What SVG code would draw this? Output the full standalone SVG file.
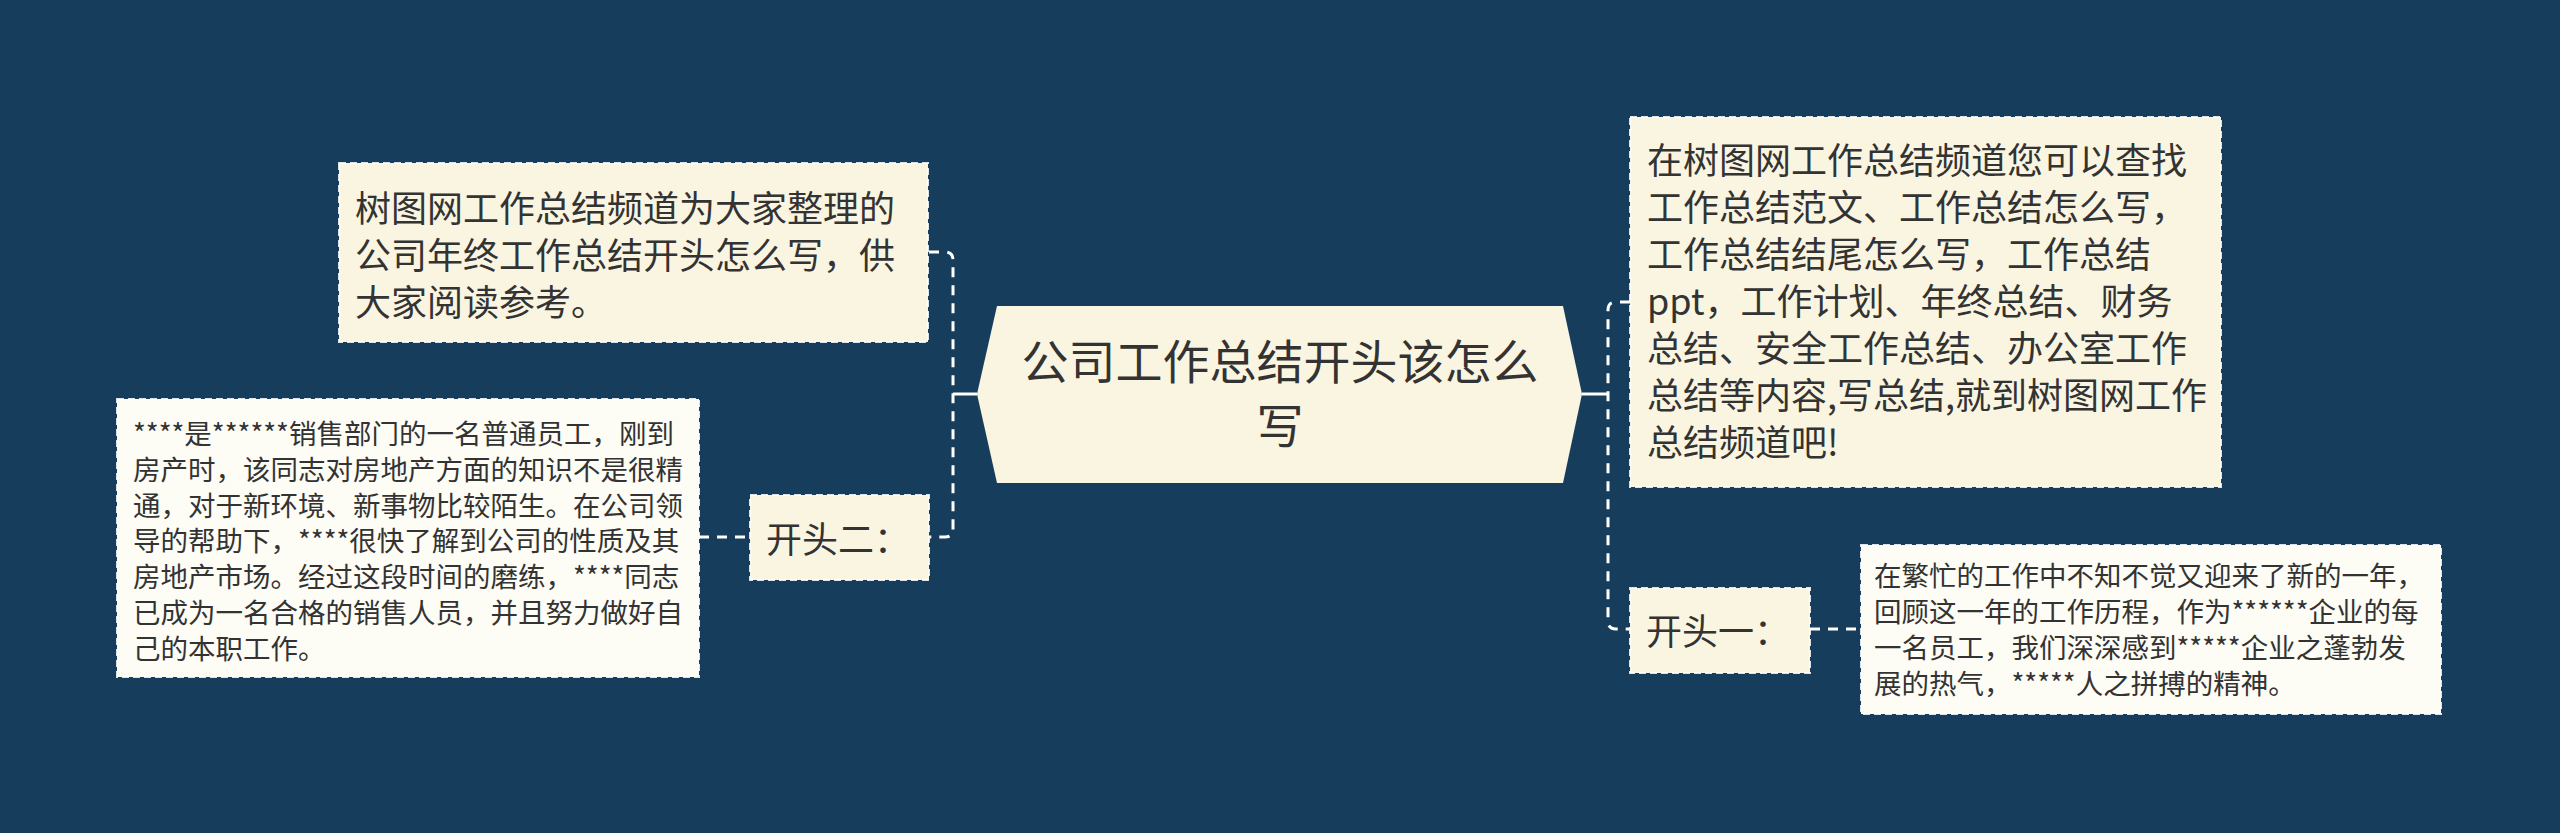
<svg xmlns="http://www.w3.org/2000/svg" width="2560" height="833" viewBox="0 0 2560 833">
<style>
.t{font-family:"Noto Sans CJK SC","Noto Sans",sans-serif;fill:#333333}
.box{fill:#faf5e1;stroke:#ffffff;stroke-width:2;stroke-dasharray:7,4;stroke-opacity:0.85}
.leaf{fill:#fdfcf5;stroke:#ffffff;stroke-width:2;stroke-dasharray:7,4;stroke-opacity:0.85}
.dash{fill:none;stroke:#ffffff;stroke-width:3;stroke-dasharray:10,8}
.solid{fill:none;stroke:#ffffff;stroke-width:3}
</style>
<rect x="0" y="0" width="2560" height="833" fill="#173d5d"/>
<g id="connectors">
<path class="dash" d="M929 252 H945 Q953 252 953 260 V529 Q953 537 945 537 H929"/>
<path class="solid" d="M953 394 H977"/>
<path class="dash" d="M699 537 H750"/>
<path class="dash" d="M1630 302 H1616 Q1608 302 1608 310 V621 Q1608 629 1616 629 H1630"/>
<path class="solid" d="M1582 394 H1608"/>
<path class="dash" d="M1810 629 H1861"/>
</g>
<g id="root">
<polygon points="977,394 997,306 1563,306 1582,394 1563,483 997,483" fill="#faf5e1"/>
<text class="t" font-size="47" text-anchor="middle" x="1280" y="379">公司工作总结开头该怎么</text>
<text class="t" font-size="47" text-anchor="middle" x="1280" y="443">写</text>
</g>
<g id="intro">
<rect class="box" x="339" y="163" width="589" height="179"/>
<text class="t" font-size="36" x="355"><tspan x="355" y="222">树图网工作总结频道为大家整理的</tspan><tspan x="355" y="269">公司年终工作总结开头怎么写，供</tspan><tspan x="355" y="316">大家阅读参考。</tspan></text>
</g>
<g id="opening2">
<rect class="box" x="750" y="495" width="179" height="85"/>
<text class="t" font-size="36" x="766" y="553">开头二：</text>
</g>
<g id="opening2-text">
<rect class="leaf" x="117" y="399" width="582" height="278"/>
<text class="t" font-size="27.5"><tspan x="133" y="444">****是******销售部门的一名普通员工，刚到</tspan><tspan x="133" y="480">房产时，该同志对房地产方面的知识不是很精</tspan><tspan x="133" y="516">通，对于新环境、新事物比较陌生。在公司领</tspan><tspan x="133" y="551">导的帮助下，****很快了解到公司的性质及其</tspan><tspan x="133" y="587">房地产市场。经过这段时间的磨练，****同志</tspan><tspan x="133" y="623">已成为一名合格的销售人员，并且努力做好自</tspan><tspan x="133" y="659">己的本职工作。</tspan></text>
</g>
<g id="channel">
<rect class="box" x="1630" y="117" width="591" height="370"/>
<text class="t" font-size="36"><tspan x="1647" y="174">在树图网工作总结频道您可以查找</tspan><tspan x="1647" y="221">工作总结范文、工作总结怎么写，</tspan><tspan x="1647" y="268">工作总结结尾怎么写，工作总结</tspan><tspan x="1647" y="315">ppt，工作计划、年终总结、财务</tspan><tspan x="1647" y="362">总结、安全工作总结、办公室工作</tspan><tspan x="1647" y="409">总结等内容,写总结,就到树图网工作</tspan><tspan x="1647" y="456">总结频道吧!</tspan></text>
</g>
<g id="opening1">
<rect class="box" x="1630" y="588" width="180" height="85"/>
<text class="t" font-size="36" x="1646" y="645">开头一：</text>
</g>
<g id="opening1-text">
<rect class="leaf" x="1861" y="545" width="580" height="169"/>
<text class="t" font-size="27.5"><tspan x="1874" y="586">在繁忙的工作中不知不觉又迎来了新的一年，</tspan><tspan x="1874" y="622">回顾这一年的工作历程，作为******企业的每</tspan><tspan x="1874" y="658">一名员工，我们深深感到*****企业之蓬勃发</tspan><tspan x="1874" y="694">展的热气，*****人之拼搏的精神。</tspan></text>
</g>
</svg>
